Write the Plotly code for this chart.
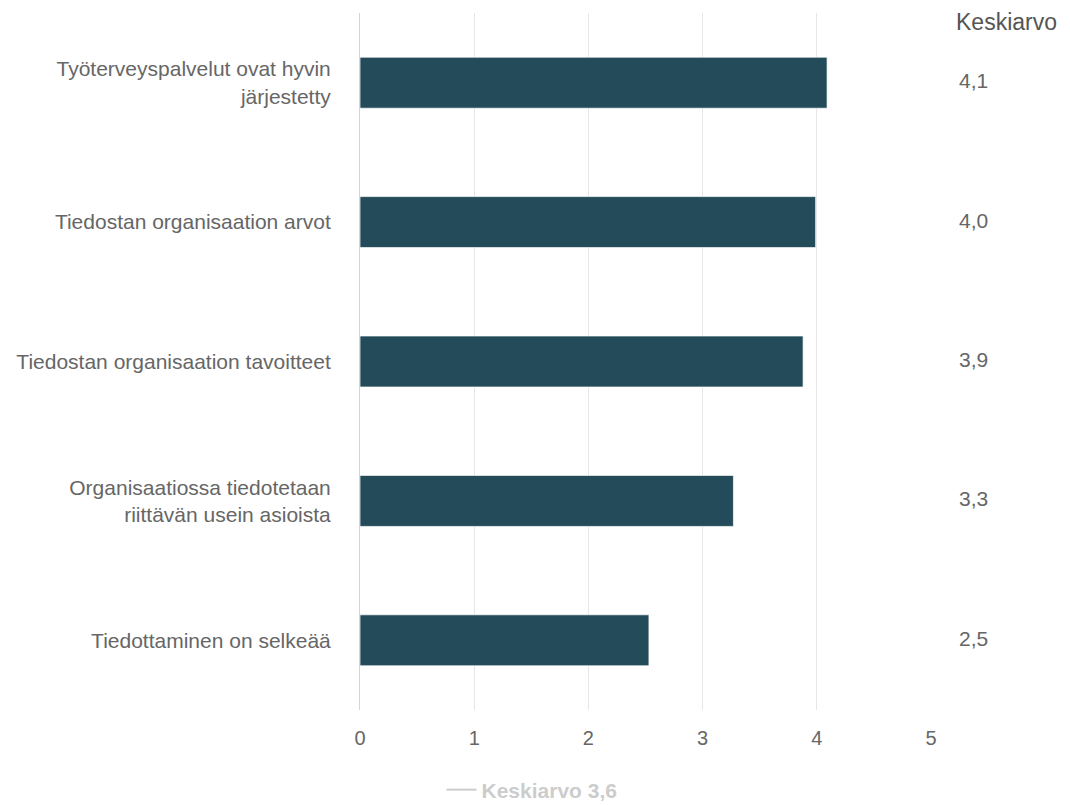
import plotly.graph_objects as go

# Survey statements (top to bottom) and their mean scores on a 0–5 scale
statements = [
    "Työterveyspalvelut ovat hyvin<br>järjestetty",
    "Tiedostan organisaation arvot",
    "Tiedostan organisaation tavoitteet",
    "Organisaatiossa tiedotetaan<br>riittävän usein asioista",
    "Tiedottaminen on selkeää",
]
means = [4.09, 3.99, 3.88, 3.27, 2.53]
overall_mean = 3.6
x_ticks = [0, 1, 2, 3, 4, 5]

FONT = "Liberation Sans, Arial, Helvetica, sans-serif"
TEXT_GREY = "#666666"
BAR_COLOR = "#234b5a"


def fi_number(v):
    return f"{v:.1f}".replace(".", ",")


fig = go.Figure()

fig.add_trace(go.Bar(
    x=means,
    y=statements,
    orientation="h",
    marker=dict(color=BAR_COLOR, line=dict(color="rgba(255,255,255,0.7)", width=1)),
    showlegend=False,
    hoverinfo="x+y",
))

# Overall mean, shown only as a (toggled-off) legend entry
fig.add_trace(go.Scatter(
    x=[overall_mean, overall_mean],
    y=[statements[0], statements[-1]],
    mode="lines",
    line=dict(color="#999999", width=2),
    name="Keskiarvo " + fi_number(overall_mean),
    visible="legendonly",
))

annotations = [
    dict(
        text="Keskiarvo", xref="paper", yref="paper", x=1.04, y=0.987,
        xanchor="left", yanchor="middle", showarrow=False,
        font=dict(family=FONT, size=23, color="#555555"),
    )
]
for s, v in zip(statements, means):
    annotations.append(dict(
        text=fi_number(v), xref="paper", yref="y", x=1.045, y=s,
        xanchor="left", yanchor="middle", showarrow=False, yshift=2,
        font=dict(family=FONT, size=21, color=TEXT_GREY),
    ))

fig.update_layout(
    width=1070,
    height=805,
    margin=dict(l=360, r=139, t=13, b=95, autoexpand=False),
    paper_bgcolor="white",
    plot_bgcolor="white",
    font=dict(family=FONT, size=21, color=TEXT_GREY),
    bargap=0.634,
    annotations=annotations,
    legend=dict(
        orientation="h",
        x=(532 - 360) / 571, xanchor="center",
        y=-(790 - 710) / 697, yanchor="middle",
        font=dict(family=FONT, size=21, color="#999999", weight="bold"),
        bgcolor="rgba(0,0,0,0)",
    ),
    xaxis=dict(
        range=[0, 5],
        tickvals=x_ticks,
        showgrid=True,
        gridcolor="#e6e6e6",
        gridwidth=1,
        zeroline=False,
        showline=False,
        ticks="",
        ticklabelstandoff=14,
        tickfont=dict(family=FONT, size=20, color=TEXT_GREY),
    ),
    yaxis=dict(
        categoryorder="array",
        categoryarray=statements[::-1],
        showgrid=False,
        zeroline=False,
        showline=True,
        linecolor="#ccd6eb",
        linewidth=1,
        ticks="",
        ticklabelstandoff=24,
        tickfont=dict(family=FONT, size=21, color=TEXT_GREY),
    ),
)

fig.write_html("out.html")
